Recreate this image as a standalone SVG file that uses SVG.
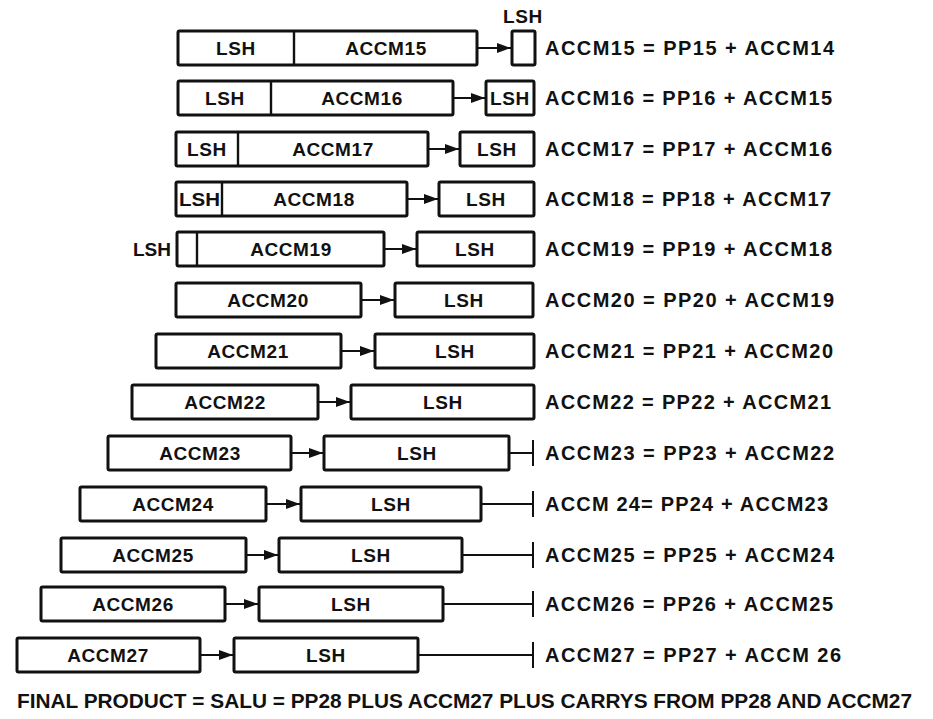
<svg xmlns="http://www.w3.org/2000/svg" width="933" height="719" viewBox="0 0 933 719">
<style>
.box{fill:#fff;stroke:#111;stroke-width:3}
.div{stroke:#111;stroke-width:2.4}
.ln{stroke:#111;stroke-width:2;fill:none}
.t{font-family:"Liberation Sans",Arial,sans-serif;font-weight:bold;font-size:19px;fill:#111}
.c{text-anchor:middle;letter-spacing:0.6px}
.eq{font-size:20px}
.fin{font-size:20px}
</style>
<defs>
<marker id="ah" markerUnits="userSpaceOnUse" markerWidth="14" markerHeight="11" refX="14" refY="5.5" orient="auto">
<path d="M0,0.5 L14,5.5 L0,10.5 Z" fill="#111"/>
</marker>
</defs>
<rect width="933" height="719" fill="#fff"/>
<g id="connectors">
<line class="ln" x1="477" y1="48" x2="511" y2="48" marker-end="url(#ah)"/>
<line class="ln" x1="453" y1="98" x2="485" y2="98" marker-end="url(#ah)"/>
<line class="ln" x1="428" y1="149" x2="459" y2="149" marker-end="url(#ah)"/>
<line class="ln" x1="407" y1="199" x2="438" y2="199" marker-end="url(#ah)"/>
<line class="ln" x1="384" y1="249" x2="416" y2="249" marker-end="url(#ah)"/>
<line class="ln" x1="361" y1="300" x2="394" y2="300" marker-end="url(#ah)"/>
<line class="ln" x1="341" y1="351" x2="374" y2="351" marker-end="url(#ah)"/>
<line class="ln" x1="318" y1="402" x2="350" y2="402" marker-end="url(#ah)"/>
<line class="ln" x1="291" y1="453" x2="323" y2="453" marker-end="url(#ah)"/>
<line class="ln" x1="266" y1="504" x2="300" y2="504" marker-end="url(#ah)"/>
<line class="ln" x1="246" y1="555" x2="278" y2="555" marker-end="url(#ah)"/>
<line class="ln" x1="225" y1="604" x2="258" y2="604" marker-end="url(#ah)"/>
<line class="ln" x1="200" y1="655" x2="233" y2="655" marker-end="url(#ah)"/>
<path class="ln" d="M509,453 H533 M533,440 V466"/>
<path class="ln" d="M481,504 H533 M533,491 V517"/>
<path class="ln" d="M462,555 H533 M533,542 V568"/>
<path class="ln" d="M443,604 H533 M533,591 V617"/>
<path class="ln" d="M418,655 H533 M533,642 V668"/>
</g>
<g id="row15">
<rect class="box" x="178" y="31" width="299" height="34" rx="1.5"/>
<line class="div" x1="294" y1="31" x2="294" y2="65"/>
<text class="t c" x="236" y="55">LSH</text>
<text class="t c" x="386" y="55">ACCM15</text>
<rect class="box" x="512" y="31" width="23" height="34" rx="1.5"/>
<text class="t c" x="523" y="23">LSH</text>
<text class="t eq" x="545" y="55" textLength="289" lengthAdjust="spacing">ACCM15 = PP15 + ACCM14</text>
</g>
<g id="row16">
<rect class="box" x="178" y="81" width="275" height="34" rx="1.5"/>
<line class="div" x1="271" y1="81" x2="271" y2="115"/>
<text class="t c" x="225" y="105">LSH</text>
<text class="t c" x="362" y="105">ACCM16</text>
<rect class="box" x="486" y="81" width="48" height="34" rx="1.5"/>
<text class="t c" x="510" y="105">LSH</text>
<text class="t eq" x="545" y="105" textLength="287" lengthAdjust="spacing">ACCM16 = PP16 + ACCM15</text>
</g>
<g id="row17">
<rect class="box" x="176" y="132" width="252" height="34" rx="1.5"/>
<line class="div" x1="238" y1="132" x2="238" y2="166"/>
<text class="t c" x="207" y="156">LSH</text>
<text class="t c" x="333" y="156">ACCM17</text>
<rect class="box" x="460" y="132" width="74" height="34" rx="1.5"/>
<text class="t c" x="497" y="156">LSH</text>
<text class="t eq" x="545" y="156" textLength="287" lengthAdjust="spacing">ACCM17 = PP17 + ACCM16</text>
</g>
<g id="row18">
<rect class="box" x="176" y="182" width="231" height="34" rx="1.5"/>
<line class="div" x1="222" y1="182" x2="222" y2="216"/>
<text class="t" x="179" y="206" textLength="41" lengthAdjust="spacingAndGlyphs">LSH</text>
<text class="t c" x="314" y="206">ACCM18</text>
<rect class="box" x="439" y="182" width="95" height="34" rx="1.5"/>
<text class="t c" x="486" y="206">LSH</text>
<text class="t eq" x="545" y="206" textLength="286" lengthAdjust="spacing">ACCM18 = PP18 + ACCM17</text>
</g>
<g id="row19">
<rect class="box" x="177" y="232" width="207" height="34" rx="1.5"/>
<line class="div" x1="197" y1="232" x2="197" y2="266"/>
<text class="t" x="133" y="256">LSH</text>
<text class="t c" x="291" y="256">ACCM19</text>
<rect class="box" x="417" y="232" width="117" height="34" rx="1.5"/>
<text class="t c" x="475" y="256">LSH</text>
<text class="t eq" x="545" y="256" textLength="287" lengthAdjust="spacing">ACCM19 = PP19 + ACCM18</text>
</g>
<g id="row20">
<rect class="box" x="176" y="283" width="185" height="34" rx="1.5"/>
<text class="t c" x="268" y="307">ACCM20</text>
<rect class="box" x="395" y="283" width="138" height="34" rx="1.5"/>
<text class="t c" x="464" y="307">LSH</text>
<text class="t eq" x="545" y="307" textLength="289" lengthAdjust="spacing">ACCM20 = PP20 + ACCM19</text>
</g>
<g id="row21">
<rect class="box" x="156" y="334" width="185" height="34" rx="1.5"/>
<text class="t c" x="248" y="358">ACCM21</text>
<rect class="box" x="375" y="334" width="159" height="34" rx="1.5"/>
<text class="t c" x="455" y="358">LSH</text>
<text class="t eq" x="545" y="358" textLength="288" lengthAdjust="spacing">ACCM21 = PP21 + ACCM20</text>
</g>
<g id="row22">
<rect class="box" x="132" y="385" width="186" height="34" rx="1.5"/>
<text class="t c" x="225" y="409">ACCM22</text>
<rect class="box" x="351" y="385" width="183" height="34" rx="1.5"/>
<text class="t c" x="443" y="409">LSH</text>
<text class="t eq" x="545" y="409" textLength="286" lengthAdjust="spacing">ACCM22 = PP22 + ACCM21</text>
</g>
<g id="row23">
<rect class="box" x="108" y="436" width="183" height="34" rx="1.5"/>
<text class="t c" x="200" y="460">ACCM23</text>
<rect class="box" x="324" y="436" width="185" height="34" rx="1.5"/>
<text class="t c" x="417" y="460">LSH</text>
<text class="t eq" x="545" y="460" textLength="289" lengthAdjust="spacing">ACCM23 = PP23 + ACCM22</text>
</g>
<g id="row24">
<rect class="box" x="80" y="487" width="186" height="34" rx="1.5"/>
<text class="t c" x="173" y="511">ACCM24</text>
<rect class="box" x="301" y="487" width="180" height="34" rx="1.5"/>
<text class="t c" x="391" y="511">LSH</text>
<text class="t eq" x="545" y="511" textLength="283" lengthAdjust="spacing">ACCM 24= PP24 + ACCM23</text>
</g>
<g id="row25">
<rect class="box" x="61" y="538" width="185" height="34" rx="1.5"/>
<text class="t c" x="153" y="562">ACCM25</text>
<rect class="box" x="279" y="538" width="183" height="34" rx="1.5"/>
<text class="t c" x="371" y="562">LSH</text>
<text class="t eq" x="545" y="562" textLength="289" lengthAdjust="spacing">ACCM25 = PP25 + ACCM24</text>
</g>
<g id="row26">
<rect class="box" x="41" y="587" width="184" height="34" rx="1.5"/>
<text class="t c" x="133" y="611">ACCM26</text>
<rect class="box" x="259" y="587" width="184" height="34" rx="1.5"/>
<text class="t c" x="351" y="611">LSH</text>
<text class="t eq" x="545" y="611" textLength="288" lengthAdjust="spacing">ACCM26 = PP26 + ACCM25</text>
</g>
<g id="row27">
<rect class="box" x="17" y="638" width="183" height="34" rx="1.5"/>
<text class="t c" x="108" y="662">ACCM27</text>
<rect class="box" x="234" y="638" width="184" height="34" rx="1.5"/>
<text class="t c" x="326" y="662">LSH</text>
<text class="t eq" x="545" y="662" textLength="296" lengthAdjust="spacing">ACCM27 = PP27 + ACCM 26</text>
</g>
<g id="final">
<text class="t fin" x="17" y="708" textLength="895" lengthAdjust="spacingAndGlyphs">FINAL PRODUCT = SALU = PP28 PLUS ACCM27 PLUS CARRYS FROM PP28 AND ACCM27</text>
</g>
</svg>
